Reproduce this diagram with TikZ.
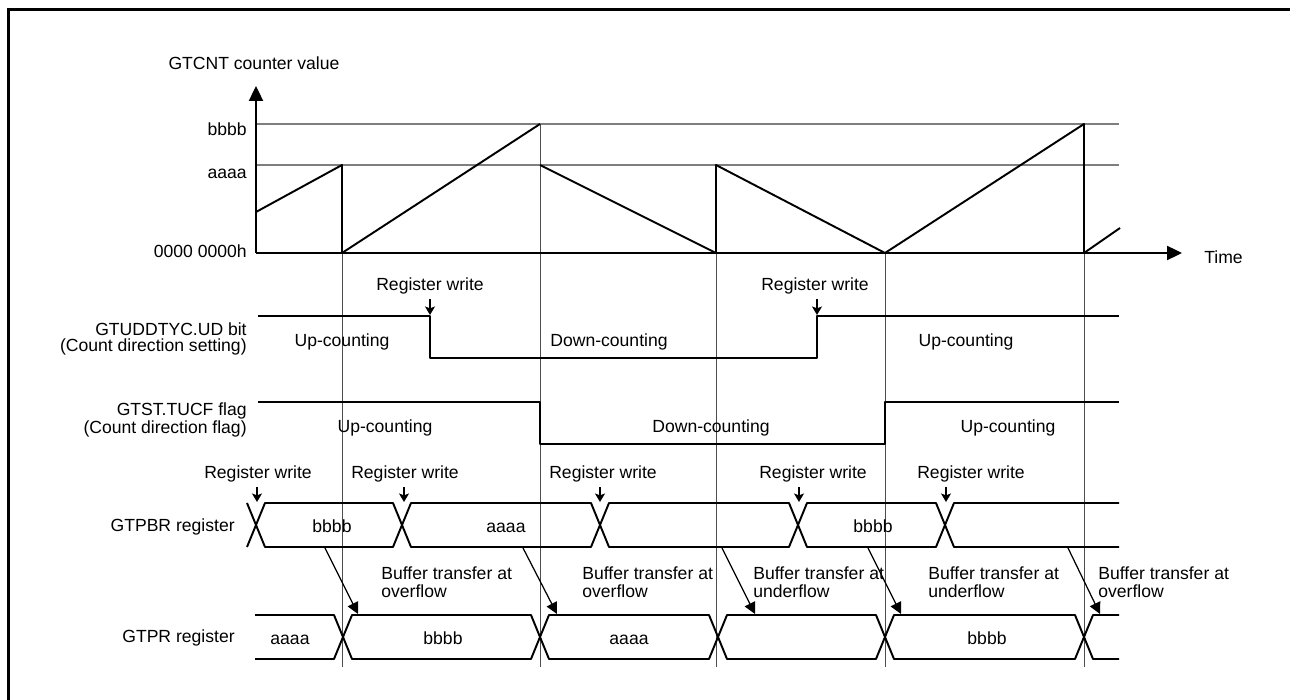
\documentclass[tikz,border=0pt]{standalone}
\usepackage{fontspec}
\setmainfont{Liberation Sans}
\usetikzlibrary{arrows.meta}
\definecolor{grid-gray}{HTML}{7F7F7F}
\definecolor{mark-gray}{HTML}{4D4D4D}

\begin{document}
\begin{tikzpicture}[x=0.2mm, y=-0.2mm,
    every node/.style={font=\fontsize{10}{10.3}\selectfont, inner sep=0pt},
    sig/.style={line width=1.1pt, line join=round},
    refline/.style={draw=grid-gray, line width=0.75pt},
    marker/.style={draw=mark-gray, line width=0.5pt},
    wrArrow/.style={line width=1.1pt, shorten <=2.5pt, -{Stealth[length=4.8pt,width=5.6pt,inset=1pt]}},
    bufArrow/.style={line width=0.7pt, -{Triangle[length=6.5pt,width=6.5pt]}},
    axisArrow/.style={line width=1.1pt, -{Triangle[length=8.5pt,width=8pt]}},
    rowLabel/.style={anchor=east, align=right, font=\fontsize{10}{8.6}\selectfont}]
  \useasboundingbox (0,0) rectangle (1290,700);
  \draw[line width=1.9pt] (8.5,700) -- (8.5,9.5) -- (1290,9.5);

  % GTCNT counter value
  \node[anchor=base] (cntTitle) at (254,70) {GTCNT counter value};
  \node[anchor=base east] (valB) at (247,136) {bbbb};
  \node[anchor=base east] (valA) at (247,179) {aaaa};
  \node[anchor=base east] (valZero) at (247,258) {0000 0000h};
  \node[anchor=base west] (timeLbl) at (1204,264) {Time};
  \draw[refline] (256,124) -- (1119,124) (256,165) -- (1119,165);
  \foreach \x/\y in {342/253, 540/124, 716/253, 885/253, 1084/124}
    \draw[marker] (\x,\y) -- (\x,667);
  \draw[sig] (256,212) -- (342,165) -- (342,253) -- (540,124);
  \draw[sig] (540,165) -- (716,253) -- (716,165) -- (885,253) -- (1084,124) -- (1084,253) -- (1120,228);
  \draw[axisArrow] (256,253) -- (256,86);
  \draw[axisArrow] (256,253) -- (1182,253);

  % GTUDDTYC.UD bit
  \node[rowLabel] (udLbl) at (247,339) {GTUDDTYC.UD bit\\(Count direction setting)};
  \draw[sig] (258,316) -- (430,316) -- (430,358) -- (817,358) -- (817,316) -- (1119,316);
  \node[anchor=base] (udUp) at (342,347) {Up-counting};
  \node[anchor=base] (udDown) at (609,347) {Down-counting};
  \node[anchor=base] (udUpB) at (966,347) {Up-counting};
  \node[anchor=base] (udWrA) at (430,291) {Register write};
  \node[anchor=base] (udWrB) at (815,291) {Register write};
  \draw[wrArrow] (udWrA.south -| 430,0) -- (430,315);
  \draw[wrArrow] (udWrB.south -| 817,0) -- (817,315);

  % GTST.TUCF flag
  \node[rowLabel] (tucfLbl) at (247,420) {GTST.TUCF flag\\(Count direction flag)};
  \draw[sig] (258,402) -- (540,402) -- (540,444) -- (885,444) -- (885,402) -- (1119,402);
  \node[anchor=base] (tucfUp) at (385,433) {Up-counting};
  \node[anchor=base] (tucfDown) at (711,433) {Down-counting};
  \node[anchor=base] (tucfUpB) at (1008,433) {Up-counting};

  % GTPBR register
  \node[anchor=base east] (pbrLbl) at (235,532) {GTPBR register};
  \draw[sig] (247,503) -- (256,525) -- (247,547);
  \foreach \a/\b in {256/402, 402/600, 600/798, 798/945}
    \draw[sig] (\a,525) -- (\a+9,503) -- (\b-9,503) -- (\b,525) -- (\b-9,547) -- (\a+9,547) -- cycle;
  \draw[sig] (1119,503) -- (954,503) -- (945,525) -- (954,547) -- (1119,547);
  \node[anchor=base] (pbrB) at (332,533) {bbbb};
  \node[anchor=base] (pbrA) at (506,533) {aaaa};
  \node[anchor=base] (pbrBB) at (873,533) {bbbb};
  \foreach \t/\a [count=\i] in {258/257, 405/404, 603/600, 813/799, 971/946} {
    \node[anchor=base] (pbrWr\i) at (\t,479) {Register write};
    \draw[wrArrow] (pbrWr\i.south -| \a,0) -- (\a,502);
  }

  % buffer transfer
  \foreach \a/\b in {325/358, 523/557, 722/755, 868/901, 1068/1100}
    \draw[bufArrow] (\a,548) -- (\b,614);
  \node[anchor=west, align=left] (bufA) at (381,582) {Buffer transfer at\\overflow};
  \node[anchor=west, align=left] (bufB) at (582,582) {Buffer transfer at\\overflow};
  \node[anchor=west, align=left] (bufC) at (753,582) {Buffer transfer at\\underflow};
  \node[anchor=west, align=left] (bufD) at (928,582) {Buffer transfer at\\underflow};
  \node[anchor=west, align=left] (bufE) at (1098,582) {Buffer transfer at\\overflow};

  % GTPR register
  \node[anchor=base east] (prLbl) at (235,643) {GTPR register};
  \draw[sig] (255,615) -- (334,615) -- (343,637) -- (334,659) -- (255,659);
  \foreach \a/\b in {343/540, 540/718, 718/885, 885/1084}
    \draw[sig] (\a,637) -- (\a+9,615) -- (\b-9,615) -- (\b,637) -- (\b-9,659) -- (\a+9,659) -- cycle;
  \draw[sig] (1119,615) -- (1093,615) -- (1084,637) -- (1093,659) -- (1119,659);
  \node[anchor=base] (prA) at (290,645) {aaaa};
  \node[anchor=base] (prB) at (443,645) {bbbb};
  \node[anchor=base] (prAA) at (629,645) {aaaa};
  \node[anchor=base] (prBB) at (987,645) {bbbb};
\end{tikzpicture}
\end{document}
